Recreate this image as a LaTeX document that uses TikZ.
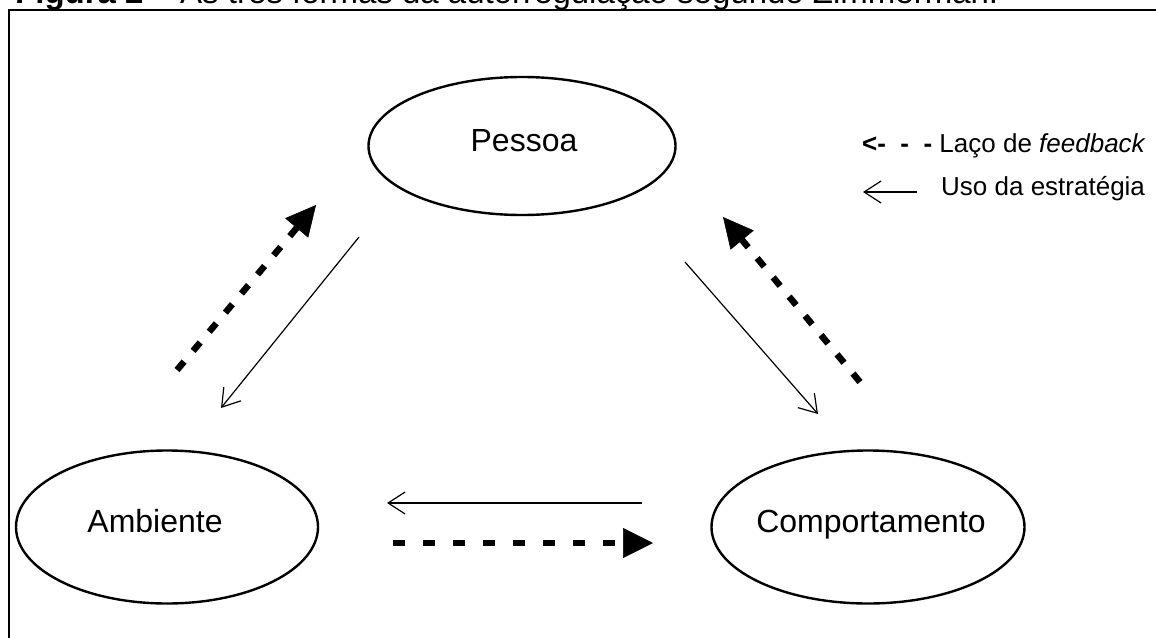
\documentclass[tikz,border=0pt]{standalone}
\usepackage{fontspec}
\setmainfont{Liberation Sans}
\usetikzlibrary{arrows.meta,shapes.geometric}
\begin{document}
\begin{tikzpicture}[x=1pt,y=-1pt,
  ell/.style={draw, ellipse, line width=2.4pt, inner sep=0pt},
  lbl/.style={inner sep=0pt, anchor=base, font=\fontsize{32}{38}\selectfont},
  leg/.style={inner sep=0pt, anchor=base west, font=\fontsize{26}{31}\selectfont},
  strat/.style={line width=1.2pt, -{Straight Barb[length=17pt,width=22pt,line width=1.2pt]}},
  fback/.style={line width=6.5pt, dash pattern=on 11pt off 14pt, -{Triangle[length=30pt,width=30pt,line width=0.5pt]}},
]
\useasboundingbox (0,0) rectangle (1156,637);
\clip (0,0) rectangle (1156,637);
% caption (cut at the top, as in the reference)
\node[anchor=base west, inner sep=0pt, font=\fontsize{33}{40}\selectfont] (title) at (15,4) {\textbf{Figura 2} – As três formas da autorregulação segundo Zimmerman.};
% frame
\draw[line width=2.5pt] (9,645) -- (9,10) -- (1165,10);
% ellipses
\node[ell, minimum width=307pt, minimum height=138pt] (pessoa) at (522,146) {};
\node[lbl] (pessoaT) at (524,151) {Pessoa};
\node[ell, minimum width=302pt, minimum height=153pt] (amb) at (167,527) {};
\node[lbl] (ambT) at (155,532) {Ambiente};
\node[ell, minimum width=313pt, minimum height=153pt] (comp) at (868,527) {};
\node[lbl] (compT) at (871,532) {Comportamento};
% legend
\node[leg] (fbk) at (862,152) {\textbf{<-\ \ -\ \ -} Laço de \textit{feedback}};
\node[leg] (uso) at (941,195) {Uso da estratégia};
\coordinate (us1) at (917,192);
\coordinate (us2) at (863,192);
\draw[strat] (us1) -- (us2);
% connector end points
\coordinate (a1s) at (177,370); \coordinate (a1e) at (316,205);
\coordinate (a2s) at (359,237); \coordinate (a2e) at (221,408);
\coordinate (a3s) at (685,262); \coordinate (a3e) at (818,414);
\coordinate (a4s) at (860,382); \coordinate (a4e) at (723,217);
\coordinate (a5s) at (642,503); \coordinate (a5e) at (387,503);
\coordinate (a6s) at (393,543); \coordinate (a6e) at (653,543);
% arrows
\draw[fback] (a1s) -- (a1e);
\draw[strat] (a2s) -- (a2e);
\draw[strat] (a3s) -- (a3e);
\draw[fback] (a4s) -- (a4e);
\draw[strat] (a5s) -- (a5e);
\draw[fback, dash pattern=on 12pt off 18pt] (a6s) -- (a6e);
\end{tikzpicture}
\end{document}
